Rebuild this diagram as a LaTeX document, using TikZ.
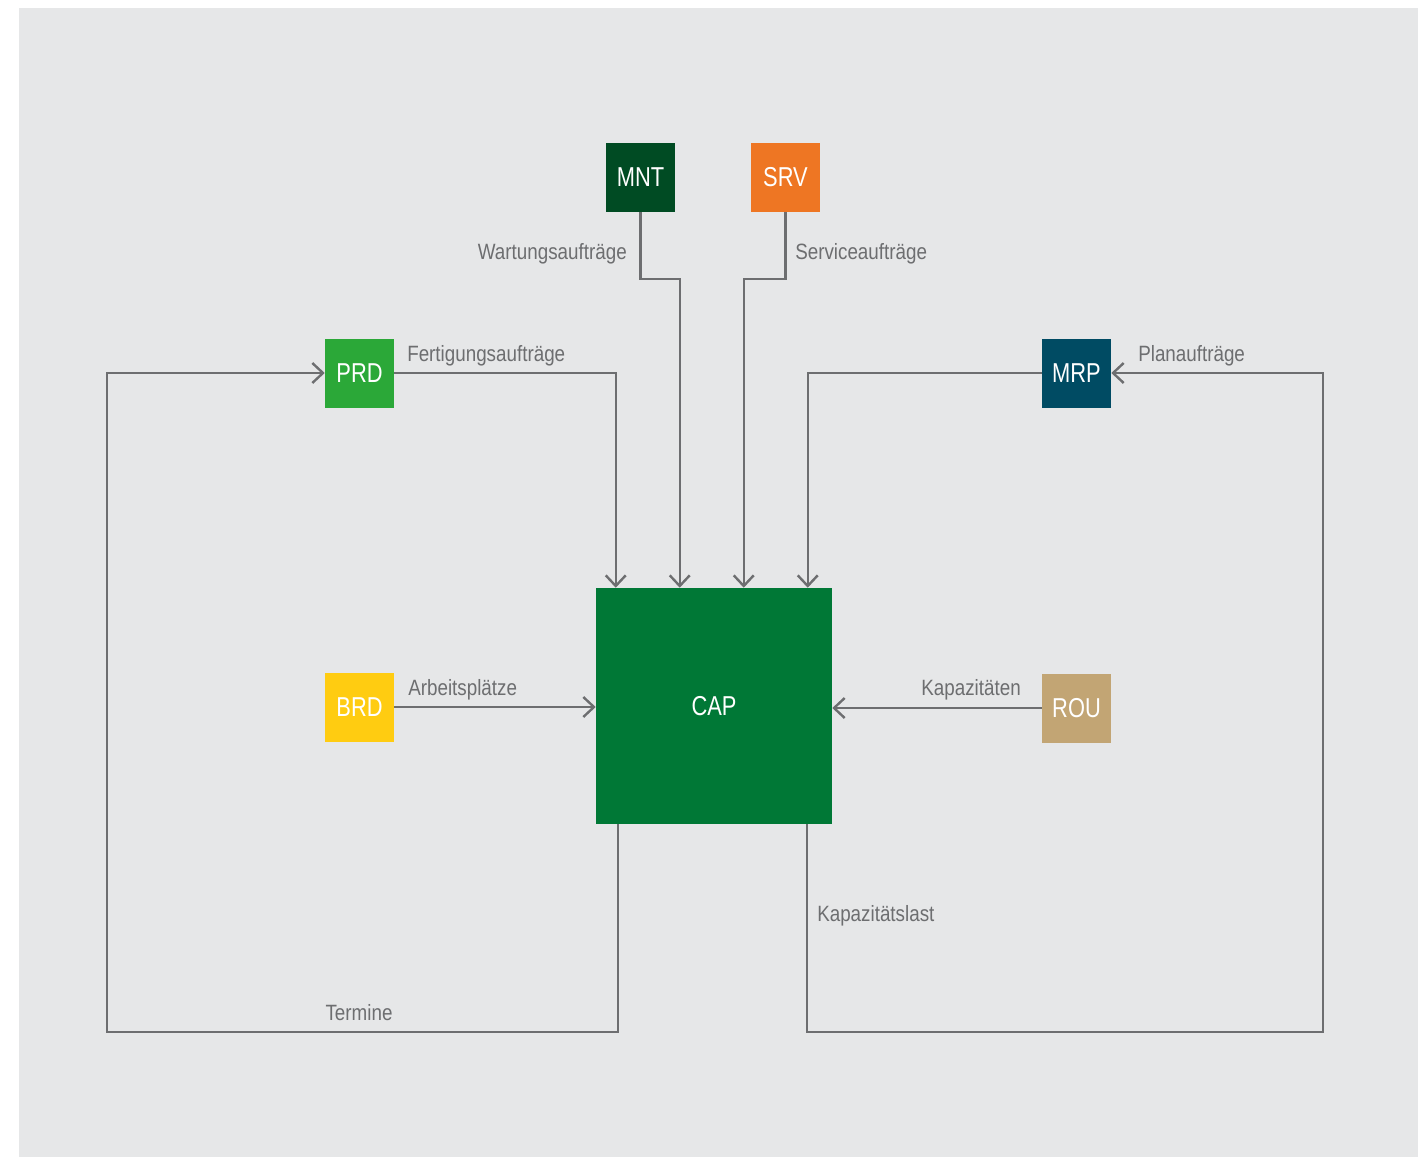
\documentclass[tikz,border=0pt]{standalone}
\usepackage{fontspec}
\setmainfont{Liberation Sans}[FakeStretch=0.85]
\newfontfamily\boxfont{Liberation Sans}[FakeStretch=0.8]
\usetikzlibrary{arrows.meta,calc}
\definecolor{bggray}{HTML}{E6E7E8}
\definecolor{linegray}{HTML}{6D6E70}
\definecolor{mntcol}{HTML}{004B23}
\definecolor{srvcol}{HTML}{EE7623}
\definecolor{prdcol}{HTML}{2BA838}
\definecolor{mrpcol}{HTML}{004B63}
\definecolor{brdcol}{HTML}{FFCC11}
\definecolor{roucol}{HTML}{C2A574}
\definecolor{capcol}{HTML}{007836}
\begin{document}
\begin{tikzpicture}[x=0.75pt,y=-0.75pt,
  module/.style={rectangle,inner sep=0pt,minimum size=51.75pt,text=white,
    font=\boxfont\fontsize{20.5}{23}\selectfont},
  lbl/.style={inner sep=0pt,text=linegray,font=\fontsize{16.6}{18}\selectfont},
  flow/.style={draw=linegray,line width=1.8pt},
  arr/.style={flow,-{Straight Barb[length=8pt,width=15pt,line width=1.8pt]}}]
\useasboundingbox (0,0) rectangle (1418,1157);
\fill[bggray] (19,8) rectangle (1418,1157);

% modules
\node[module,fill=mntcol] (mnt) at (640.5,177.5) {MNT};
\node[module,fill=srvcol] (srv) at (785.5,177.5) {SRV};
\node[module,fill=prdcol] (prd) at (359.5,373) {PRD};
\node[module,fill=mrpcol] (mrp) at (1076.5,373) {MRP};
\node[module,fill=brdcol] (brd) at (359.5,707) {BRD};
\node[module,fill=roucol] (rou) at (1076.5,708) {ROU};
\node[module,fill=capcol,minimum size=177pt] (cap) at (714,706) {CAP};

% flows into capacity planning
\draw[arr] (mnt.south) -- (640.5,279) -| ($(cap.north west)+(84,0)$);
\draw[arr] (srv.south) -- (785.5,279) -| ($(cap.north west)+(148,0)$);
\draw[arr] (prd.east) -| ($(cap.north west)+(20,0)$);
\draw[arr] (mrp.west) -| ($(cap.north west)+(212,0)$);
\draw[arr] (brd.east) -- (brd.east -| cap.west);
\draw[arr] (rou.west) -- (rou.west -| cap.east);

% feedback loops
\draw[arr] ($(cap.south west)+(22,0)$) |- (107,1032) |- (prd.west);
\draw[arr] ($(cap.south west)+(211,0)$) |- (1323,1032) |- (mrp.east);

% labels
\node[lbl,anchor=base east] (lw) at (627,259) {Wartungsaufträge};
\node[lbl,anchor=base west] (ls) at (795,259) {Serviceaufträge};
\node[lbl,anchor=base west] (lf) at (407,361) {Fertigungsaufträge};
\node[lbl,anchor=base west] (lp) at (1138,361) {Planaufträge};
\node[lbl,anchor=base west] (la) at (408,695) {Arbeitsplätze};
\node[lbl,anchor=base east] (lk) at (1021,695) {Kapazitäten};
\node[lbl,anchor=base west] (ll) at (817,921) {Kapazitätslast};
\node[lbl,anchor=base] (lt) at (359,1020) {Termine};
\end{tikzpicture}
\end{document}
